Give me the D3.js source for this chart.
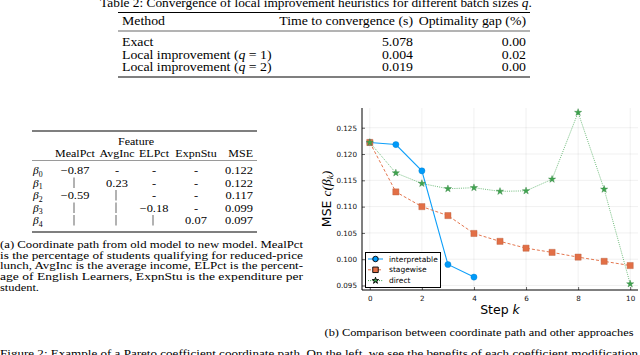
<!DOCTYPE html>
<html><head><meta charset="utf-8">
<script src="https://cdn.jsdelivr.net/npm/d3@7"></script>
<style>body{margin:0;background:#fff;overflow:hidden} svg{display:block}</style>
</head><body>
<svg id="c" width="640" height="355"></svg>
<script>
// ---------- data ----------
const steps = [0,1,2,3,4,5,6,7,8,9,10];
const interpretable = [0.1222,0.1218,0.1168,0.0990,0.0966];
const stagewise = [0.1222,0.1128,0.1100,0.1083,0.1049,0.1034,0.1021,0.1013,0.1004,0.0996,0.0988];
const direct = [0.1222,0.1164,0.1144,0.1134,0.1136,0.1129,0.1130,0.1152,0.1279,0.1133,0.0953];
const seriesNames = ["interpretable","stagewise","direct"];
const xTicks = [0,2,4,6,8,10];
const yTicks = [0.095,0.100,0.105,0.110,0.115,0.120,0.125];

const t2Caption = "Table 2: Convergence of local improvement heuristics for different batch sizes ";
const t2Headers = ["Method","Time to convergence (s)","Optimality gap (%)"];
const t2Method = ["Exact","Local improvement (","Local improvement ("];
const t2Q = [null,"1","2"];
const t2Time = ["5.078","0.004","0.019"];
const t2Gap = ["0.00","0.02","0.00"];

const features = ["MealPct","AvgInc","ELPct","ExpnStu"];
const betaIdx = ["0","1","2","3","4"];
const cells = [
  ["\u22120.87","-","-","-"],
  ["|","0.23","-","-"],
  ["\u22120.59","|","-","-"],
  ["|","|","\u22120.18","-"],
  ["|","|","|","0.07"]
];
const mse = ["0.122","0.122","0.117","0.099","0.097"];

const capA = [
  "(a) Coordinate path from old model to new model. MealPct",
  "is the percentage of students qualifying for reduced-price",
  "lunch, AvgInc is the average income, ELPct is the percent-",
  "age of English Learners, ExpnStu is the expenditure per",
  "student."
];
const capB = "(b) Comparison between coordinate path and other approaches";
const figCap = "Figure 2: Example of a Pareto coefficient coordinate path. On the left, we see the benefits of each coefficient modification";

// ---------- helpers ----------
const svg = d3.select("#c");
const SERIF = "'Liberation Serif','Times New Roman',serif";
const SANS = "'DejaVu Sans',sans-serif";
function stretch(sel, k) {
  sel.each(function() {
    const w = this.getComputedTextLength();
    this.setAttribute("textLength", (w * k).toFixed(2));
    this.setAttribute("lengthAdjust", "spacingAndGlyphs");
  });
}
const rule = (g, x1, x2, yy, w) => g.append("line").attr("x1",x1).attr("x2",x2)
  .attr("y1",yy).attr("y2",yy).attr("stroke","#000").attr("stroke-width",w);

// ---------- Table 2 ----------
const K2 = 1.15;
const t2 = svg.append("g").attr("font-family", SERIF).attr("font-size", 12).attr("fill","#000");
const capT = t2.append("text").attr("x", 316).attr("y", 7).attr("text-anchor","middle").attr("font-size",11.6);
capT.append("tspan").text(t2Caption);
capT.append("tspan").attr("font-style","italic").text("q");
capT.append("tspan").text(".");
capT.call(stretch, K2);
rule(t2, 118, 530, 12.5, 1.1);
rule(t2, 118, 530, 31, 0.6);
rule(t2, 118, 530, 77, 1.1);
t2.append("text").attr("x",122).attr("y",25).text(t2Headers[0]).call(stretch,K2);
t2.append("text").attr("x",413).attr("y",25).attr("text-anchor","end").text(t2Headers[1]).call(stretch,K2);
t2.append("text").attr("x",526).attr("y",25).attr("text-anchor","end").text(t2Headers[2]).call(stretch,K2);
t2Method.forEach((m,i) => {
  const yy = 46 + i*12.5;
  const t = t2.append("text").attr("x",122).attr("y",yy);
  t.append("tspan").text(m);
  if (t2Q[i]) {
    t.append("tspan").attr("font-style","italic").text("q");
    t.append("tspan").text(" = " + t2Q[i] + ")");
  }
  t.call(stretch,K2);
  t2.append("text").attr("x",413).attr("y",yy).attr("text-anchor","end").text(t2Time[i]).call(stretch,K2);
  t2.append("text").attr("x",526).attr("y",yy).attr("text-anchor","end").text(t2Gap[i]).call(stretch,K2);
});

// ---------- Left table ----------
const KL = 1.09;
const lt = svg.append("g").attr("font-family", SERIF).attr("font-size", 11).attr("fill","#000");
rule(lt, 32, 257, 131, 1.1);
lt.append("text").attr("x",136).attr("y",145).attr("text-anchor","middle").text("Feature").call(stretch,KL);
const colX = [75,117,154,196];
features.forEach((f,j) => lt.append("text").attr("x",colX[j]).attr("y",157).attr("text-anchor","middle").text(f).call(stretch,KL));
lt.append("text").attr("x",253).attr("y",157).attr("text-anchor","end").text("MSE").call(stretch,KL);
rule(lt, 32, 257, 160.5, 0.4);
betaIdx.forEach((b,i) => {
  const yy = 174 + i*12.5;
  const t = lt.append("text").attr("x",33).attr("y",yy).attr("font-size",11.4);
  t.append("tspan").attr("font-style","italic").text("\u03b2");
  t.append("tspan").attr("font-size",7.8).attr("dy",2.5).text(b);
  cells[i].forEach((c,j) => {
    if (c === "|") {
      lt.append("line").attr("x1",colX[j]-1).attr("x2",colX[j]-1).attr("y1",yy-9).attr("y2",yy+1.5)
        .attr("stroke","#222").attr("stroke-width",0.7);
    } else {
      lt.append("text").attr("x",colX[j]).attr("y",yy).attr("font-size",11.4).attr("text-anchor","middle").text(c).call(stretch,KL);
    }
  });
  lt.append("text").attr("x",253).attr("y",yy).attr("font-size",11.4).attr("text-anchor","end").text(mse[i]).call(stretch,KL);
});
rule(lt, 32, 257, 232, 1.1);

// ---------- captions ----------
const ca = svg.append("g").attr("font-family", SERIF).attr("font-size", 10.8);
capA.forEach((l,i) => {
  const t = ca.append("text").attr("x",0).attr("y",248 + i*10.7).text(l);
  if (i < capA.length-1) t.attr("textLength",303).attr("lengthAdjust","spacingAndGlyphs");
  else t.call(stretch, 1.15);
});
svg.append("text").attr("font-family",SERIF).attr("font-size",11).attr("x",479).attr("y",336)
  .attr("text-anchor","middle").text(capB).call(stretch, 1.12);
svg.append("text").attr("font-family",SERIF).attr("font-size",11).attr("x",0).attr("y",357)
  .attr("textLength",638).attr("lengthAdjust","spacingAndGlyphs").text(figCap);

// ---------- chart ----------
const pL = 362, pR = 638, pT = 108, pB = 290;
const x = d3.scaleLinear().domain([-0.3,10.3]).range([pL,pR]);
const y = d3.scaleLinear().domain([0.09415,0.12875]).range([pB,pT]);
const ch = svg.append("g");

// grid
ch.append("g").selectAll("line").data(xTicks).join("line")
  .attr("x1",d=>x(d)).attr("x2",d=>x(d)).attr("y1",pT).attr("y2",pB)
  .attr("stroke","#000").attr("stroke-opacity",0.1).attr("stroke-width",0.6);
ch.append("g").selectAll("line").data(yTicks).join("line")
  .attr("x1",pL).attr("x2",pR).attr("y1",d=>y(d)).attr("y2",d=>y(d))
  .attr("stroke","#000").attr("stroke-opacity",0.1).attr("stroke-width",0.6);

// axes
const xAxis = d3.axisBottom(x).tickValues(xTicks).tickFormat(d3.format("d")).tickSizeInner(-3).tickSizeOuter(0).tickPadding(6);
const yAxis = d3.axisLeft(y).tickValues(yTicks).tickFormat(d3.format(".3f")).tickSizeInner(-3).tickSizeOuter(0).tickPadding(5);
const gx = ch.append("g").attr("transform",`translate(0,${pB})`).call(xAxis);
const gy = ch.append("g").attr("transform",`translate(${pL},0)`).call(yAxis);
[gx,gy].forEach(g => {
  g.select(".domain").attr("stroke","#000").attr("stroke-width",1);
  g.selectAll(".tick line").attr("stroke","#000").attr("stroke-width",0.6);
  g.selectAll(".tick text").attr("font-family",SANS).attr("font-size",7.2).attr("fill","#111");
});
gx.select(".domain").attr("d",`M${pL},0H${pR}`);
gy.select(".domain").attr("d",`M0,${pB}V${pT}`);

// axis labels
const xl = ch.append("text").attr("x",500).attr("y",314).attr("text-anchor","middle")
  .attr("font-family",SANS).attr("font-size",12.5);
xl.append("tspan").text("Step ");
xl.append("tspan").attr("font-style","italic").text("k");
const yl = ch.append("text").attr("transform",`translate(330.5,199) rotate(-90)`).attr("text-anchor","middle")
  .attr("font-family",SANS).attr("font-size",12.5);
yl.append("tspan").text("MSE ");
yl.append("tspan").attr("font-family",SERIF).attr("font-style","italic").attr("font-size",13.5).text("c(\u03b2");
yl.append("tspan").attr("font-family",SERIF).attr("font-style","italic").attr("font-size",9).attr("dy",2.5).text("k");
yl.append("tspan").attr("font-family",SERIF).attr("font-style","italic").attr("font-size",13.5).attr("dy",-2.5).text(")");

// series
const colors = ["#009AF9","#E26F46","#3EA44E"];
const dashes = [null,"3,2","1,1.2"];
const data = [interpretable, stagewise, direct];
const symbols = [d3.symbolCircle, d3.symbolSquare, d3.symbolStar];
const symSize = [30, 38, 16];
const line = d3.line().x((d,i)=>x(steps[i])).y(d=>y(d));
data.forEach((vals,s) => {
  ch.append("path").datum(vals).attr("d",line).attr("fill","none")
    .attr("stroke",colors[s]).attr("stroke-width", s===0?1.1:1)
    .attr("stroke-opacity", s===2?0.75:0.95)
    .attr("stroke-dasharray",dashes[s]);
});
data.forEach((vals,s) => {
  ch.append("g").selectAll("path").data(vals).join("path")
    .attr("transform",(d,i)=>`translate(${x(steps[i])},${y(d)})`)
    .attr("d",d3.symbol().type(symbols[s]).size(symSize[s]))
    .attr("fill",colors[s]).attr("stroke",d3.color(colors[s]).darker(0.6)).attr("stroke-width",0.4);
});

// legend
const lg = ch.append("g");
lg.append("rect").attr("x",365.5).attr("y",252.5).attr("width",75).attr("height",35)
  .attr("fill","#fff").attr("stroke","#000").attr("stroke-width",1);
seriesNames.forEach((n,s) => {
  const ly = 259 + s*10.8;
  lg.append("line").attr("x1",368).attr("x2",383).attr("y1",ly).attr("y2",ly)
    .attr("stroke",colors[s]).attr("stroke-width",1).attr("stroke-dasharray",dashes[s]);
  lg.append("path").attr("transform",`translate(375.5,${ly})`)
    .attr("d",d3.symbol().type(symbols[s]).size(symSize[s]*0.8))
    .attr("fill",colors[s]).attr("stroke","#000").attr("stroke-width",0.9);
  lg.append("text").attr("x",389).attr("y",ly+2.6).attr("font-family",SANS).attr("font-size",7.5).text(n);
});
</script>
</body></html>
